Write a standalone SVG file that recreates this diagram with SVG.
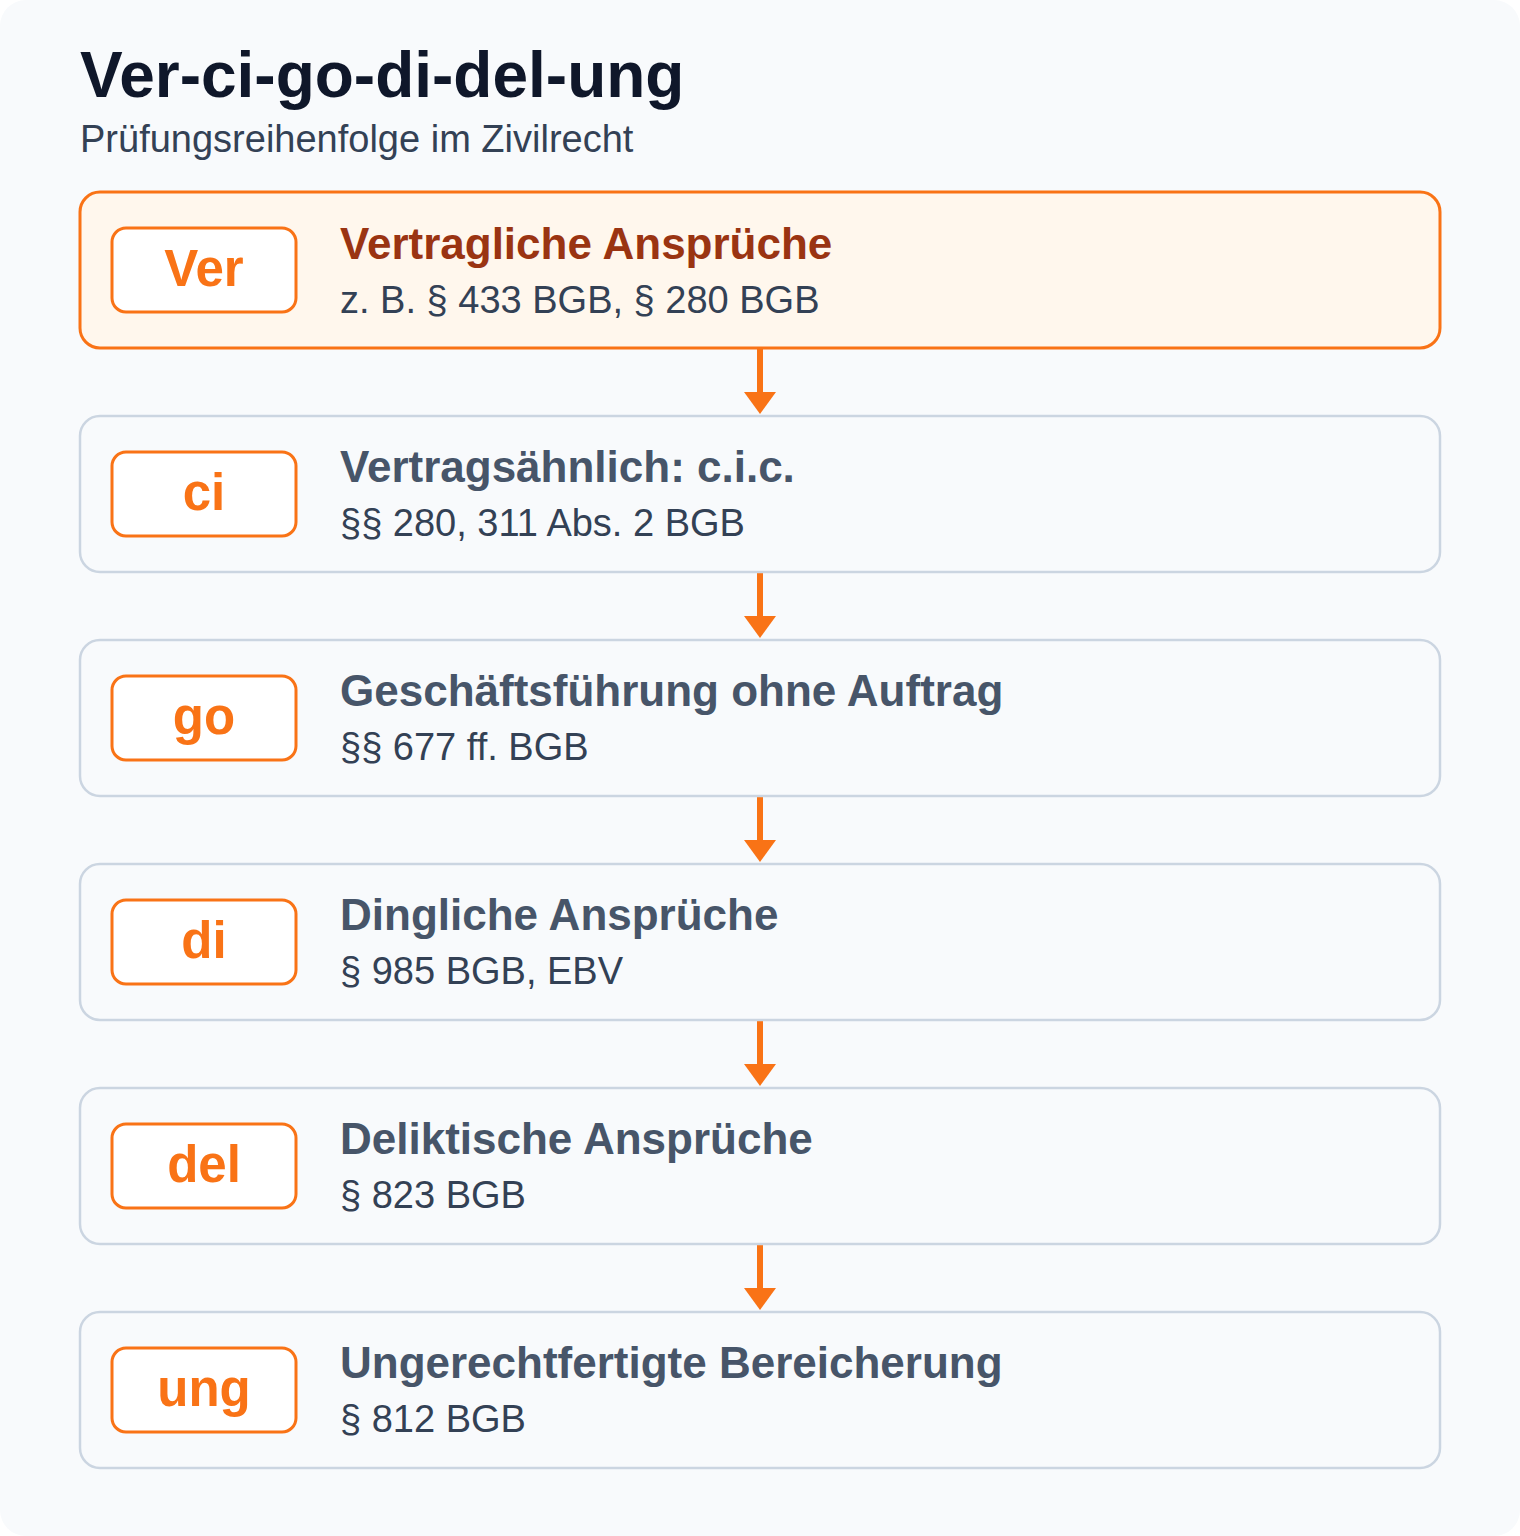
<svg xmlns="http://www.w3.org/2000/svg" width="1520" height="1536" viewBox="0 0 1520 1536">
<defs>
<style>
.bg{fill:#f8fafc}
.box{fill:#f8fafc;stroke:#cbd5e1;stroke-width:2.5}
.hl{fill:#fff7ed;stroke:#f97316;stroke-width:3}
.badge{fill:#ffffff;stroke:#f97316;stroke-width:3}
.bt{font-family:"Liberation Sans",Arial,sans-serif;font-weight:bold;font-size:51px;fill:#f97316;text-anchor:middle}
.tt{font-family:"Liberation Sans",Arial,sans-serif;font-weight:bold;font-size:44px;fill:#475569}
.tth{fill:#9a3412}
.st{font-family:"Liberation Sans",Arial,sans-serif;font-size:38px;fill:#334155}
.conn line{stroke:#f97316;stroke-width:6}
.conn polygon{fill:#f97316}
</style>
</defs>
<rect width="1520" height="1536" fill="#ffffff"/>
<rect class="bg" x="0" y="0" width="1520" height="1536" rx="26"/>
<g id="header">
<text x="80" y="97" font-family="Liberation Sans, Arial, sans-serif" font-weight="bold" font-size="64" fill="#0f172a">Ver-ci-go-di-del-ung</text>
<text x="80" y="152" font-family="Liberation Sans, Arial, sans-serif" font-size="38" fill="#334155">Prüfungsreihenfolge im Zivilrecht</text>
</g>
<g id="connectors" class="conn">
<line x1="760" y1="348" x2="760" y2="394"/><polygon points="744,392 776,392 760,414"/>
<line x1="760" y1="572" x2="760" y2="618"/><polygon points="744,616 776,616 760,638"/>
<line x1="760" y1="796" x2="760" y2="842"/><polygon points="744,840 776,840 760,862"/>
<line x1="760" y1="1020" x2="760" y2="1066"/><polygon points="744,1064 776,1064 760,1086"/>
<line x1="760" y1="1244" x2="760" y2="1290"/><polygon points="744,1288 776,1288 760,1310"/>
</g>
<g id="node-ver">
<rect class="hl" x="80" y="192" width="1360" height="156" rx="20"/>
<rect class="badge" x="112" y="228" width="184" height="84" rx="14"/>
<text class="bt" x="204" y="286">Ver</text>
<text class="tt tth" x="340" y="259">Vertragliche Ansprüche</text>
<text class="st" x="340" y="313">z. B. § 433 BGB, § 280 BGB</text>
</g>
<g id="node-ci">
<rect class="box" x="80" y="416" width="1360" height="156" rx="20"/>
<rect class="badge" x="112" y="452" width="184" height="84" rx="14"/>
<text class="bt" x="204" y="510">ci</text>
<text class="tt" x="340" y="482">Vertragsähnlich: c.i.c.</text>
<text class="st" x="340" y="536">§§ 280, 311 Abs. 2 BGB</text>
</g>
<g id="node-go">
<rect class="box" x="80" y="640" width="1360" height="156" rx="20"/>
<rect class="badge" x="112" y="676" width="184" height="84" rx="14"/>
<text class="bt" x="204" y="734">go</text>
<text class="tt" x="340" y="706">Geschäftsführung ohne Auftrag</text>
<text class="st" x="340" y="760">§§ 677 ff. BGB</text>
</g>
<g id="node-di">
<rect class="box" x="80" y="864" width="1360" height="156" rx="20"/>
<rect class="badge" x="112" y="900" width="184" height="84" rx="14"/>
<text class="bt" x="204" y="958">di</text>
<text class="tt" x="340" y="930">Dingliche Ansprüche</text>
<text class="st" x="340" y="984">§ 985 BGB, EBV</text>
</g>
<g id="node-del">
<rect class="box" x="80" y="1088" width="1360" height="156" rx="20"/>
<rect class="badge" x="112" y="1124" width="184" height="84" rx="14"/>
<text class="bt" x="204" y="1182">del</text>
<text class="tt" x="340" y="1154">Deliktische Ansprüche</text>
<text class="st" x="340" y="1208">§ 823 BGB</text>
</g>
<g id="node-ung">
<rect class="box" x="80" y="1312" width="1360" height="156" rx="20"/>
<rect class="badge" x="112" y="1348" width="184" height="84" rx="14"/>
<text class="bt" x="204" y="1406">ung</text>
<text class="tt" x="340" y="1378">Ungerechtfertigte Bereicherung</text>
<text class="st" x="340" y="1432">§ 812 BGB</text>
</g>
</svg>
